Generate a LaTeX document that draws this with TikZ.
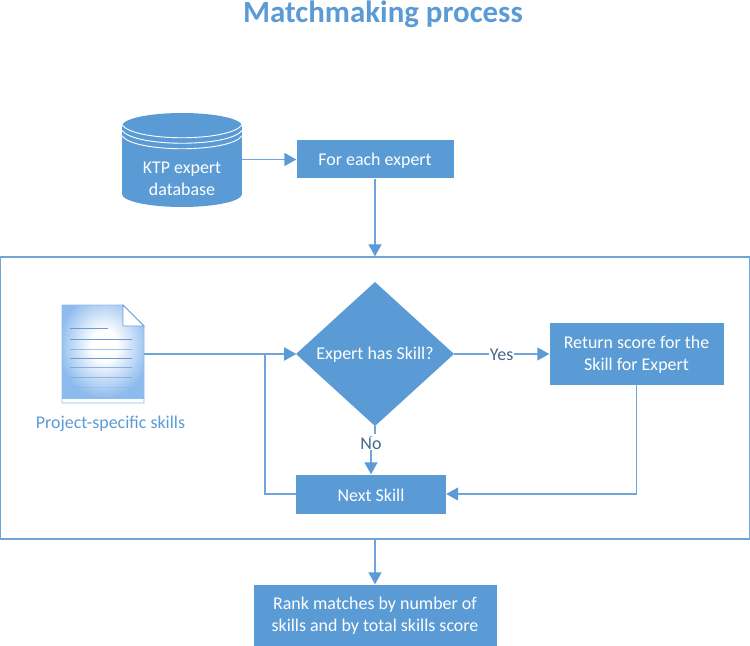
\documentclass[tikz,border=0pt]{standalone}
\usepackage{fontspec}
\setmainfont{Carlito}
\usetikzlibrary{arrows.meta,shapes.geometric,calc}
\definecolor{mainblue}{HTML}{5B9BD5}
\definecolor{linkblue}{HTML}{6FA5D9}
\definecolor{labelblue}{HTML}{44678C}
\definecolor{docline}{HTML}{6F9AD3}
\definecolor{docouter}{HTML}{8DBBEE}
\pgfdeclareradialshading{docsh}{\pgfpoint{0bp}{0bp}}{color(0bp)=(white); color(7bp)=(white); color(25bp)=(docouter); color(50bp)=(docouter)}
\tikzset{
  x=1bp,y=-1bp,
  box/.style={draw=none,fill=mainblue,inner sep=0pt},
  boxtext/.style={text=white,align=center,font=\fontsize{18}{22}\selectfont,inner sep=0pt,yshift=-1bp},
  link/.style={draw=linkblue,line width=1.4bp,-{Triangle[length=12bp,width=13bp,color=mainblue]}},
  plainlink/.style={draw=linkblue,line width=1.4bp},
  edgelabel/.style={text=labelblue,font=\fontsize{18}{20}\selectfont,fill=white,inner sep=1pt},
}
\begin{document}
\begin{tikzpicture}
\useasboundingbox (0,0) rectangle (750,646);
% title
\node[anchor=base,text=mainblue,font=\bfseries\fontsize{31}{34}\selectfont] (title) at (383,23) {Matchmaking process};
% outer frame
\node[draw=linkblue,line width=1.4bp,minimum width=749bp,minimum height=282bp,inner sep=0pt] (frame) at (375,398) {};
% cylinder
\fill[mainblue] (122,125) rectangle (242,194);
\fill[mainblue] (182,126) ellipse[x radius=60,y radius=13];
\fill[mainblue] (182,194) ellipse[x radius=60,y radius=13];
\foreach \yy in {125,130.5,136}
  \draw[white,line width=0.9bp] (122,\yy) .. controls (135,\yy+17) and (229,\yy+17) .. (242,\yy);
\node[boxtext] (db) at (182,177.5) {KTP expert\\database};
% boxes
\node[box,minimum width=157bp,minimum height=38bp] (each) at (375,159.5) {};
\node[boxtext] (eachT) at (each) {For each expert};
\coordinate (dbE) at (242,159.5);
\node[box,minimum width=174bp,minimum height=62bp] (ret) at (636.5,354) {};
\node[boxtext] (retT) at (ret) {Return score for the\\Skill for Expert};
\node[box,minimum width=150bp,minimum height=39bp] (next) at (371,494) {};
\node[boxtext] (nextT) at (next) {Next Skill};
\node[box,minimum width=243bp,minimum height=61bp] (rank) at (375,615) {};
\node[boxtext] (rankT) at (rank) {Rank matches by number of\\skills and by total skills score};
% diamond
\fill[mainblue] (375,282) coordinate (dT) -- (454,354) coordinate (dR) -- (375,426) coordinate (dB) -- (296,354) coordinate (dL) -- cycle;
\node[boxtext] (dia) at (375,354) {Expert has Skill?};
% document
\begin{scope}
\clip (62,305) -- (123,305) -- (144,326) -- (144,403) -- (62,403) -- cycle;
\shade[shading=docsh] (58,292) rectangle (150,398);
\end{scope}
\draw[docouter,line width=0.8bp] (62,305) -- (123,305) -- (144,326) -- (144,403) -- (62,403) -- cycle;
\fill[white] (123,305) -- (144,326) -- (123,326) -- cycle;
\draw[docline,line width=0.9bp] (123,305) -- (144,326) -- (123,326) -- cycle;
\draw[docline,line width=0.9bp] (70,328.5) -- (108,328.5);
\foreach \yy/\oo in {339/1,349/.6,358/1,367/.7,377/.6,387/.2}
  \draw[docline,line width=0.9bp,opacity=\oo] (70,\yy) -- (132,\yy);
\coordinate (docE) at (144,354);
\node[text=mainblue,font=\fontsize{18}{20}\selectfont] (doclabel) at (110.5,424) {Project-specific skills};
% connectors
\draw[link] (dbE) -- (each.west);
\draw[link] (each.south) -- (frame.north);
\draw[link] (docE) -- (dL);
\draw[link] (dR) -- (ret.west) node[edgelabel,midway,yshift=-1bp] (yes) {Yes};
\draw[plainlink] (dB) -- ++(0,8) coordinate (noTop);
\coordinate (noStart) at (371,436);
\draw[link] (noStart) -- (next.north) node[edgelabel,pos=.2] (no) {No};
\draw[link] (next.west) -- ++(-31,0) coordinate (c1) -- (c1 |- dL) -- (dL);
\draw[link] (ret.south) |- (next.east);
\draw[link] (frame.south) -- (rank.north);
\end{tikzpicture}
\end{document}
